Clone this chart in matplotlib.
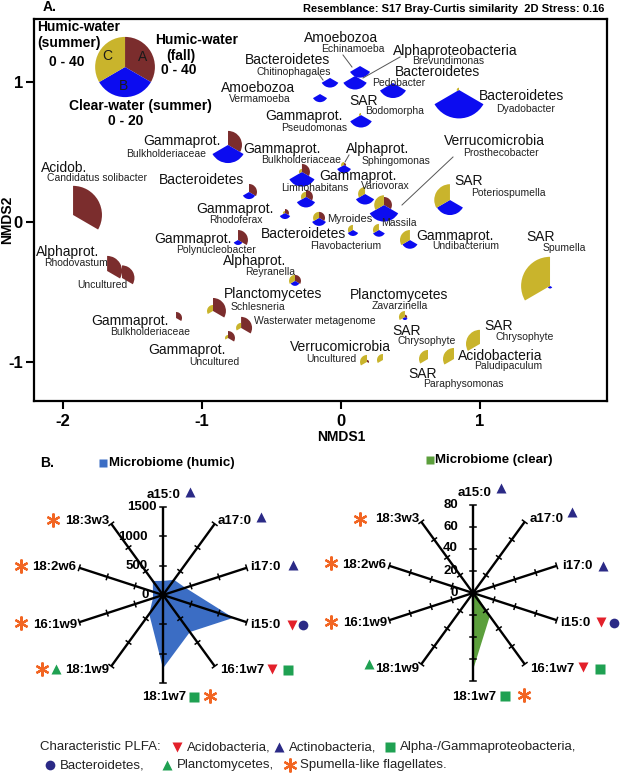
import matplotlib
matplotlib.use('Agg')
import matplotlib.pyplot as plt
import numpy as np
from matplotlib.patches import Wedge, Polygon
import matplotlib.transforms as mtransforms

plt.rcParams['font.family'] = ['Liberation Sans', 'DejaVu Sans']

# ---------------- DATA: panel A (NMDS segmented bubble plot) ----------------
taxa = ['Echinamoeba', 'Brevundimonas', 'Chitinophagales', 'Pedobacter', 'Dyadobacter',
        'Vermamoeba', 'Pseudomonas', 'Bulkholderiaceae (a)', 'Bulkholderiaceae (b)',
        'Limnohabitans', 'Sphingomonas', 'Bacteroidetes', 'Rhodoferax', 'Myroides',
        'Flavobacterium', 'Massila', 'Prosthecobacter', 'Variovorax', 'Undibacterium',
        'Poteriospumella', 'Spumella', 'Zavarzinella', 'Candidatus solibacter',
        'Rhodovastum', 'Uncultured alpha', 'Polynucleobacter', 'Reyranella', 'Schlesneria',
        'Bulkholderiaceae (c)', 'Wasterwater metagenome', 'Uncultured gamma',
        'Uncultured verruco 1', 'Uncultured verruco 2', 'Chrysophyte 1', 'Paludipaculum',
        'Chrysophyte 2']
nmds1 = [0.137, 0.101, -0.079, 0.374, 0.849, -0.151, 0.144, -0.813, -0.281, -0.252,
         0.022, -0.662, -0.403, -0.158, 0.086, 0.273, 0.309, 0.173, 0.496, 0.784,
         1.504, 0.460, -1.928, -1.683, -1.576, -0.741, -0.331, -0.921, -1.187, -0.719,
         -0.813, 0.187, 0.302, 0.626, 0.813, 1.000]
nmds2 = [1.114, 1.043, 1.029, 0.993, 0.943, 0.914, 0.764, 0.550, 0.357, 0.179,
         0.407, 0.214, 0.064, 0.029, -0.057, -0.057, 0.121, 0.200, -0.129, 0.157,
         -0.457, -0.679, 0.050, -0.350, -0.400, -0.129, -0.421, -0.636, -0.686, -0.757,
         -0.829, -1.000, -0.986, -0.979, -0.979, -0.871]
# A: humic-water (fall) 0-40, B: clear-water (summer) 0-20, C: humic-water (summer) 0-40
humic_fall = [0, 0, 0, 0, 0, 0, 0, 18.7, 10.7, 9.3, 2.7, 10.7, 5.3, 8, 0, 0, 10.7, 0, 0, 0,
              0, 3, 38.7, 20, 16.7, 13.3, 8, 17.3, 8, 14.7, 9.3, 2.7, 0, 0, 0, 0]
clear_summer = [7.7, 9, 6.4, 10, 18.9, 5.4, 8.3, 12, 9.7, 7, 5.3, 4.7, 4, 5.3, 4, 4.5, 11, 7,
                5.8, 10, 1.7, 2, 0, 0, 0, 3.3, 3.3, 0, 0, 0, 0, 0, 0, 0, 0, 0]
humic_summer = [0, 0, 0, 0, 3, 0, 2.7, 0, 4, 6.7, 4, 0, 2.7, 8, 6.7, 8, 13, 9.3, 13.3, 21,
                38.7, 8, 0, 0, 0, 0, 8, 8, 0, 6.7, 4, 9.3, 8, 12, 14.7, 18.7]
scale_max = [40, 20, 40]
x_ticks = [-2, -1, 0, 1]
y_ticks = [-1, 0, 1]

# ---------------- DATA: panel B (PLFA radar) ----------------
plfa = ['a15:0', 'a17:0', 'i17:0', 'i15:0', '16:1w7', '18:1w7', '18:1w9', '16:1w9', '18:2w6', '18:3w3']
plfa_humic = [240, 320, 400, 1260, 780, 1250, 400, 180, 180, 295]
plfa_clear = [1, 1, 2, 3, 26, 70, 2, 3, 3, 1]
humic_ticks = [0, 500, 1000, 1500]
clear_ticks = [0, 20, 40, 60, 80]

# ---------------- FIGURE ----------------
W_PX, H_PX = 622, 775
fig = plt.figure(figsize=(W_PX / 100, H_PX / 100), dpi=100)
PX = mtransforms.Affine2D().scale(1 / W_PX, -1 / H_PX).translate(0, 1) + fig.transFigure

colA, colB, colC = '#7b2d2d', '#0c0cf0', '#c9b42c'

# ---- panel A ----
axA = fig.add_axes([34 / W_PX, 1 - 401 / H_PX, 573 / W_PX, 382 / H_PX])
axA.set_xlim(-2.209, 1.914)
axA.set_ylim(-1.279, 1.45)
R_UNIT = 30 / 139.5


def glyph(ax, x, y, a, b, c):
    for val, vmax, t1, t2, col in [(a, scale_max[0], -30, 90, colA),
                                   (b, scale_max[1], 210, 330, colB),
                                   (c, scale_max[2], 90, 210, colC)]:
        if val > 0:
            ax.add_patch(Wedge((x, y), val / vmax * R_UNIT, t1, t2,
                               facecolor=col, edgecolor='none', zorder=3))


for i in range(len(taxa)):
    glyph(axA, nmds1[i], nmds2[i], humic_fall[i], clear_summer[i], humic_summer[i])

# key pie
glyph(axA, -1.554, 1.107, scale_max[0], scale_max[1], scale_max[2])

axA.set_xticks(x_ticks)
axA.set_yticks(y_ticks)
axA.set_xticklabels([str(v) for v in x_ticks], fontsize=12, fontweight='bold')
axA.set_yticklabels([str(v) for v in y_ticks], fontsize=12, fontweight='bold')
axA.tick_params(axis='x', direction='out', length=6, width=1.5, pad=3.5)
axA.tick_params(axis='y', direction='out', length=6, width=1.5, pad=2)
for s in axA.spines.values():
    s.set_linewidth(1.6)

fig.text(341, 437, 'NMDS1', transform=PX, ha='center', va='center', fontsize=10, fontweight='bold')
fig.text(7, 220, 'NMDS2', transform=PX, ha='center', va='center', fontsize=10,
         fontweight='bold', rotation=90)
fig.text(43, 7, 'A.', transform=PX, ha='left', va='center', fontsize=10, fontweight='bold')
fig.text(604, 9, 'Resemblance: S17 Bray-Curtis similarity  2D Stress: 0.16', transform=PX,
         ha='right', va='center', fontsize=8, fontweight='bold')

# key texts
key_texts = [('Humic-water', 37, 27, 'left'), ('(summer)', 37, 43, 'left'), ('0 - 40', 67, 62, 'center'),
             ('Humic-water', 197, 40, 'center'), ('(fall)', 181, 56, 'center'), ('0 - 40', 179, 70, 'center'),
             ('Clear-water (summer)', 140, 106, 'center'), ('0 - 20', 126, 121, 'center')]
for t, x, y, ha in key_texts:
    fig.text(x, y, t, transform=PX, ha=ha, va='center', fontsize=10, fontweight='bold')
for t, x, y in [('A', 143, 57), ('B', 124, 86), ('C', 107, 56)]:
    fig.text(x, y, t, transform=PX, ha='center', va='center', fontsize=10, color='#1a1a1a')

labelsA = [
    ('Amoebozoa', 341, 38, 'g'), ('Echinamoeba', 353, 49, 's'),
    ('Alphaproteobacteria', 455, 51, 'g'), ('Brevundimonas', 448, 61, 's'),
    ('Bacteroidetes', 288, 60, 'g'), ('Chitinophagales', 294, 72, 's'),
    ('Bacteroidetes', 437, 72, 'g'), ('Pedobacter', 399, 83, 's'),
    ('Amoebozoa', 258, 88, 'g'), ('Vermamoeba', 260, 99, 's'),
    ('Bacteroidetes', 522, 96, 'g'), ('Dyadobacter', 526, 109, 's'),
    ('SAR', 364, 101, 'g'), ('Bodomorpha', 395, 111, 's'),
    ('Gammaprot.', 304, 116, 'g'), ('Pseudomonas', 314, 128, 's'),
    ('Gammaprot.', 182, 141, 'g'), ('Bulkholderiaceae', 166, 154, 's'),
    ('Gammaprot.', 282, 149, 'g'), ('Bulkholderiaceae', 301, 160, 's'),
    ('Alphaprot.', 378, 149, 'g'), ('Sphingomonas', 396, 161, 's'),
    ('Verrucomicrobia', 494, 141, 'g'), ('Prosthecobacter', 501, 153, 's'),
    ('Acidob.', 64, 168, 'g'), ('Candidatus solibacter', 97, 178, 's'),
    ('Bacteroidetes', 202, 180, 'g'),
    ('Gammaprot.', 358, 176, 'g'), ('Variovorax', 385, 186, 's'),
    ('Limnohabitans', 315, 188, 's'),
    ('SAR', 469, 181, 'g'), ('Poteriospumella', 508, 193, 's'),
    ('Gammaprot.', 235, 209, 'g'), ('Rhodoferax', 236, 220, 's'),
    ('Myroides', 350, 219, 'm'), ('Massila', 399, 223, 's'),
    ('Bacteroidetes', 304, 234, 'g'), ('Flavobacterium', 346, 246, 's'),
    ('Gammaprot.', 455, 236, 'g'), ('Undibacterium', 466, 246, 's'),
    ('SAR', 541, 237, 'g'), ('Spumella', 564, 248, 's'),
    ('Gammaprot.', 193, 239, 'g'), ('Polynucleobacter', 216, 250, 's'),
    ('Alphaprot.', 68, 252, 'g'), ('Rhodovastum', 76, 263, 's'),
    ('Uncultured', 102, 285, 's'),
    ('Alphaprot.', 255, 261, 'g'), ('Reyranella', 270, 272, 's'),
    ('Planctomycetes', 273, 294, 'g'), ('Schlesneria', 258, 307, 's'),
    ('Planctomycetes', 399, 295, 'g'), ('Zavarzinella', 400, 306, 's'),
    ('Wasterwater metagenome', 315, 321, 's'),
    ('Gammaprot.', 130, 321, 'g'), ('Bulkholderiaceae', 150, 332, 's'),
    ('Gammaprot.', 187, 350, 'g'), ('Uncultured', 214, 362, 's'),
    ('SAR', 407, 331, 'g'), ('Chrysophyte', 427, 341, 's'),
    ('SAR', 499, 326, 'g'), ('Chrysophyte', 525, 337, 's'),
    ('Verrucomicrobia', 340, 347, 'g'), ('Uncultured', 331, 359, 's'),
    ('Acidobacteria', 500, 356, 'g'), ('Paludipaculum', 508, 366, 's'),
    ('SAR', 423, 374, 'g'), ('Paraphysomonas', 463, 384, 's'),
]
fs = {'g': 10, 's': 7.5, 'm': 8}
for t, x, y, k in labelsA:
    fig.text(x, y, t, transform=PX, ha='center', va='center', fontsize=fs[k],
             color='#111111' if k == 'g' else '#222222')

leader_lines = [((343, 55), (352, 67)), ((400, 57), (363, 78)), ((318, 73), (323, 80)),
                ((453, 157), (402, 205)), ((349, 155), (345, 162))]
for (x1, y1), (x2, y2) in leader_lines:
    axA.plot([x1, x2], [y1, y2], transform=PX, color='#555555', lw=0.7, zorder=4)

# ---- overlay for markers in panel B ----
ov = fig.add_axes([0, 0, 1, 1], zorder=5)
ov.set_xlim(0, W_PX)
ov.set_ylim(H_PX, 0)
ov.axis('off')
ov.patch.set_alpha(0)

RED, NAVY, GREEN, ORANGE = '#e3202a', '#2b2a86', '#1fa152', '#f26522'
MK = {
    'acido': dict(marker='v', color=RED, ms=7, mec='none'),
    'actino': dict(marker='^', color=NAVY, ms=7, mec='none'),
    'alpha': dict(marker='s', color=GREEN, ms=6.5, mec='none'),
    'bact': dict(marker='o', color=NAVY, ms=7, mec='none'),
    'planc': dict(marker='^', color=GREEN, ms=7, mec='none'),
    'spum': dict(marker=(6, 2, 0), color=ORANGE, ms=10, mew=1.6, mec=ORANGE),
}


def mark(x, y, kind):
    ov.plot([x], [y], linestyle='none', **MK[kind])


# ---- radar charts ----
def radar(cx, cy, R, vmax, values, color, ticks):
    W = 150
    L = W / R * vmax
    ax = fig.add_axes([(cx - W) / W_PX, 1 - (cy + W) / H_PX, 2 * W / W_PX, 2 * W / H_PX], zorder=2)
    ax.set_xlim(-L, L)
    ax.set_ylim(-L, L)
    ax.axis('off')
    ax.patch.set_alpha(0)
    ang = np.deg2rad(90 - 36 * np.arange(len(plfa)))
    vals = np.asarray(values, dtype=float)
    ax.add_patch(Polygon(np.c_[vals * np.cos(ang), vals * np.sin(ang)], closed=True,
                         facecolor=color, edgecolor='none', zorder=1))
    th = 2.8 / R * vmax
    for a in ang:
        ax.plot([0, vmax * np.cos(a)], [0, vmax * np.sin(a)], color='black', lw=1.7,
                zorder=2, solid_capstyle='butt')
        for t in ticks[1:]:
            px_, py_ = t * np.cos(a), t * np.sin(a)
            nx, ny = -np.sin(a) * th, np.cos(a) * th
            ax.plot([px_ - nx, px_ + nx], [py_ - ny, py_ + ny], color='black', lw=1.1, zorder=2)
    return ax


radar(163, 595, 88, humic_ticks[-1], plfa_humic, '#3b6dc4', humic_ticks)
radar(473, 593, 88, clear_ticks[-1], plfa_clear, '#5c9f3c', clear_ticks)

# scale labels
for t, (x, y) in zip(humic_ticks, [(149, 595), (148, 566), (148, 537), (157, 507)]):
    fig.text(x, y, str(t), transform=PX, ha='right', va='center', fontsize=9.5, fontweight='bold')
for t, (x, y) in zip(clear_ticks, [(458, 593), (458, 571), (458, 548), (458, 527), (458, 505)]):
    fig.text(x, y, str(t), transform=PX, ha='right', va='center', fontsize=9.5, fontweight='bold')

spoke_labels_left = [(164, 495, 'center'), (218, 521, 'left'), (250, 567, 'left'), (250, 625, 'left'),
                     (220, 670, 'left'), (164, 697, 'center'), (109, 670, 'right'), (77, 625, 'right'),
                     (76, 567, 'right'), (109, 521, 'right')]
spoke_labels_right = [(475, 493, 'center'), (530, 519, 'left'), (562, 566, 'left'), (560, 623, 'left'),
                      (530, 669, 'left'), (474, 697, 'center'), (419, 669, 'right'), (387, 623, 'right'),
                      (386, 565, 'right'), (419, 519, 'right')]
for lab, (x, y, ha) in zip(plfa, spoke_labels_left):
    fig.text(x, y, lab, transform=PX, ha=ha, va='center', fontsize=9.5, fontweight='bold')
for lab, (x, y, ha) in zip(plfa, spoke_labels_right):
    fig.text(x, y, lab, transform=PX, ha=ha, va='center', fontsize=9.5, fontweight='bold')

markers_left = [(190, 492, 'actino'), (261, 517, 'actino'), (293, 565, 'actino'),
                (292, 625, 'acido'), (303, 625, 'bact'), (272, 669, 'acido'), (288, 670, 'alpha'),
                (194, 697, 'alpha'), (210, 696, 'spum'), (56, 669, 'planc'), (42, 669, 'spum'),
                (21, 623, 'spum'), (21, 566, 'spum'), (53, 520, 'spum')]
markers_right = [(501, 488, 'actino'), (572, 512, 'actino'), (603, 566, 'actino'),
                 (601, 622, 'acido'), (614, 623, 'bact'), (583, 667, 'acido'), (600, 669, 'alpha'),
                 (505, 696, 'alpha'), (524, 695, 'spum'), (369, 664, 'planc'),
                 (331, 622, 'spum'), (331, 563, 'spum'), (360, 519, 'spum')]
for x, y, k in markers_left + markers_right:
    mark(x, y, k)

# panel B header
fig.text(40, 463, 'B.', transform=PX, ha='left', va='center', fontsize=10, fontweight='bold')
ov.plot([103], [463], marker='s', color='#3b6dc4', ms=6, mec='none', linestyle='none')
fig.text(109, 463, 'Microbiome (humic)', transform=PX, ha='left', va='center', fontsize=9.5,
         fontweight='bold')
ov.plot([430], [460], marker='s', color='#5c9f3c', ms=6, mec='none', linestyle='none')
fig.text(435, 460, 'Microbiome (clear)', transform=PX, ha='left', va='center', fontsize=9.5,
         fontweight='bold')

# bottom legend
leg_items = [(None, 40, 747, 'Characteristic PLFA:'), ('acido', 177, 747, 'Acidobacteria,'),
             ('actino', 279, 747, 'Actinobacteria,'), ('alpha', 390, 747, 'Alpha-/Gammaproteobacteria,'),
             ('bact', 50, 765, 'Bacteroidetes,'), ('planc', 167, 765, 'Planctomycetes,'),
             ('spum', 290, 765, 'Spumella-like flagellates.')]
for k, x, y, t in leg_items:
    if k is None:
        fig.text(x, y, t, transform=PX, ha='left', va='center', fontsize=9.5, color='#222222')
    else:
        mark(x, y, k)
        fig.text(x + 10, y, t, transform=PX, ha='left', va='center', fontsize=9.5, color='#222222')

fig.savefig('out.png', dpi=100)
